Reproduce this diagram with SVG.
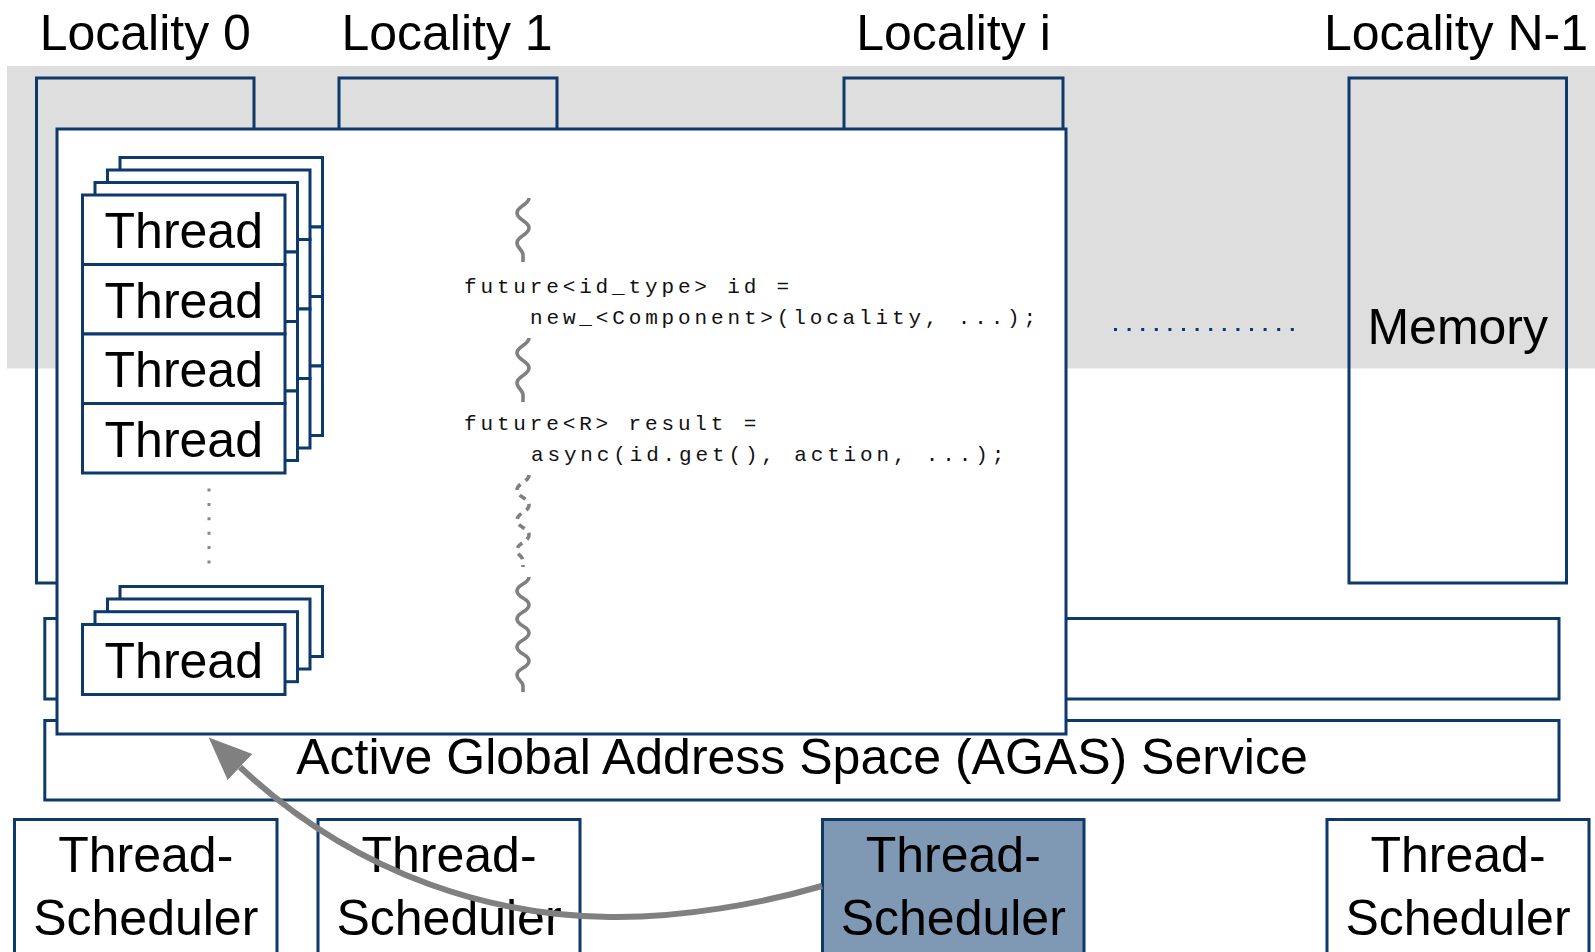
<svg xmlns="http://www.w3.org/2000/svg" width="1595" height="952" viewBox="0 0 1595 952">
  <style>
    .box { fill: none; stroke: #0d396b; stroke-width: 3; }
    .wbox { fill: #ffffff; stroke: #0d396b; stroke-width: 3; }
    .lbl { font-family: "Liberation Sans", Arial, Helvetica, sans-serif; font-size: 50px; fill: #000000; text-anchor: middle; }
    .code { font-family: "Liberation Mono", "Courier New", monospace; font-size: 21px; letter-spacing: 3.85px; fill: #111111; }
    .wave { fill: none; stroke: #808080; stroke-width: 3.6; stroke-linecap: butt; }
  </style>
  <defs>
    <!-- one layer of the thread stack: four Thread cells -->
    <g id="threadColumn">
      <rect class="wbox" x="82.5" y="195" width="202.5" height="69.5"/>
      <rect class="wbox" x="82.5" y="264.5" width="202.5" height="69.5"/>
      <rect class="wbox" x="82.5" y="334" width="202.5" height="69.5"/>
      <rect class="wbox" x="82.5" y="403.5" width="202.5" height="69.5"/>
    </g>
    <rect id="threadCell" class="wbox" x="82.5" y="624.5" width="202.5" height="70"/>
    <marker id="head" markerUnits="userSpaceOnUse" markerWidth="50" markerHeight="40" refX="0" refY="18" orient="auto" viewBox="0 0 50 36">
      <path d="M0,0 L43,18 L0,36 Z" fill="#808080"/>
    </marker>
  </defs>

  <rect width="1595" height="952" fill="#ffffff"/>

  <!-- shared memory band -->
  <rect x="7" y="66" width="1588" height="302.5" fill="#dedede"/>

  <!-- locality headers -->
  <g id="locality-labels">
    <text class="lbl" x="145.3" y="50">Locality 0</text>
    <text class="lbl" x="447" y="50">Locality 1</text>
    <text class="lbl" x="953.5" y="50">Locality i</text>
    <text class="lbl" x="1456" y="50">Locality N-1</text>
  </g>

  <!-- locality frames -->
  <g id="locality-0"><rect class="box" x="36.5" y="78" width="217.5" height="505"/></g>
  <g id="locality-1"><rect class="box" x="339" y="78" width="218" height="505"/></g>
  <g id="locality-i"><rect class="box" x="844" y="78" width="219" height="505"/></g>
  <g id="locality-n1">
    <rect class="box" x="1349" y="78" width="217.5" height="505"/>
    <text class="lbl" x="1457.75" y="344">Memory</text>
  </g>

  <!-- elided localities -->
  <line x1="1114" y1="329.5" x2="1295" y2="329.5" stroke="#0d396b" stroke-width="3" stroke-dasharray="3 10.6"/>

  <!-- parcel layer and AGAS bars -->
  <g id="parcel-bar"><rect class="wbox" x="44.8" y="618.5" width="1514.2" height="80.5"/></g>
  <g id="agas">
    <rect class="wbox" x="44.8" y="720.5" width="1514.2" height="79.5"/>
  </g>

  <!-- thread manager panel -->
  <g id="thread-manager">
    <rect class="wbox" x="57" y="129" width="1009" height="605"/>

    <g id="thread-stack-upper">
      <use href="#threadColumn" transform="translate(37.5,-37.5)"/>
      <use href="#threadColumn" transform="translate(25,-25)"/>
      <use href="#threadColumn" transform="translate(12.5,-12.5)"/>
      <use href="#threadColumn"/>
      <text class="lbl" x="183.75" y="248">Thread</text>
      <text class="lbl" x="183.75" y="317.5">Thread</text>
      <text class="lbl" x="183.75" y="387">Thread</text>
      <text class="lbl" x="183.75" y="456.5">Thread</text>
    </g>

    <line x1="209" y1="488.5" x2="209" y2="566" stroke="#888888" stroke-width="3" stroke-dasharray="3 11.4"/>

    <g id="thread-stack-lower">
      <use href="#threadCell" transform="translate(37.5,-38)"/>
      <use href="#threadCell" transform="translate(25,-25.5)"/>
      <use href="#threadCell" transform="translate(12.5,-12.8)"/>
      <use href="#threadCell"/>
      <text class="lbl" x="183.75" y="677.5">Thread</text>
    </g>

    <!-- thread of execution -->
    <path class="wave" d="M529,198 C529,205 517,206 517,213 C517,220 529,221 529,228 C529,235 517,236 517,243 C517,248 523,250 523,255 L523,262"/>
    <text class="code" x="464" y="293">future&lt;id_type&gt; id =</text>
    <text class="code" x="530" y="324">new_&lt;Component&gt;(locality, ...);</text>
    <path class="wave" d="M529,338 C529,345 517,346 517,353 C517,360 529,361 529,368 C529,375 517,376 517,383 C517,388 523,390 523,395 L523,402"/>
    <text class="code" x="464" y="430">future&lt;R&gt; result =</text>
    <text class="code" x="531" y="461">async(id.get(), action, ...);</text>
    <path class="wave" stroke-dasharray="7 6" d="M529,475 C529,482 517,483 517,490 C517,497 529,498 529,505 C529,512 517,513 517,520 C517,527 529,528 529,535 C529,542 517,543 517,550 C517,555 523,556 523,561 L523,567"/>
    <path class="wave" d="M529,577 C529,584 517,584 517,591 C517,598 529,598 529,605 C529,612 517,612 517,619 C517,626 529,626 529,633 C529,640 517,640 517,647 C517,654 529,654 529,661 C529,668 517,668 517,675 C517,680 523,681 523,686 L523,692"/>
  </g>

  <text class="lbl" x="802" y="774">Active Global Address Space (AGAS) Service</text>

  <!-- thread schedulers -->
  <g id="scheduler-0">
    <rect class="wbox" x="14.5" y="819.5" width="262.5" height="150"/>
    <text class="lbl" x="145.75" y="872">Thread-</text>
    <text class="lbl" x="145.75" y="935">Scheduler</text>
  </g>
  <g id="scheduler-1">
    <rect class="wbox" x="318" y="819.5" width="262" height="150"/>
    <text class="lbl" x="449" y="872">Thread-</text>
    <text class="lbl" x="449" y="935">Scheduler</text>
  </g>
  <g id="scheduler-i">
    <rect x="822.5" y="819.5" width="261.5" height="150" fill="#7f99b4" stroke="#0d396b" stroke-width="3"/>
    <text class="lbl" x="953.25" y="872">Thread-</text>
    <text class="lbl" x="953.25" y="935">Scheduler</text>
  </g>
  <g id="scheduler-n1">
    <rect class="wbox" x="1327" y="819.5" width="262" height="150"/>
    <text class="lbl" x="1458" y="872">Thread-</text>
    <text class="lbl" x="1458" y="935">Scheduler</text>
  </g>

  <!-- connectors -->
  <g id="connectors">
    <path d="M822,886 C760,904 680,918 610,917 C500,916 360,880 240,767" fill="none" stroke="#808080" stroke-width="6" marker-end="url(#head)"/>
  </g>
</svg>
